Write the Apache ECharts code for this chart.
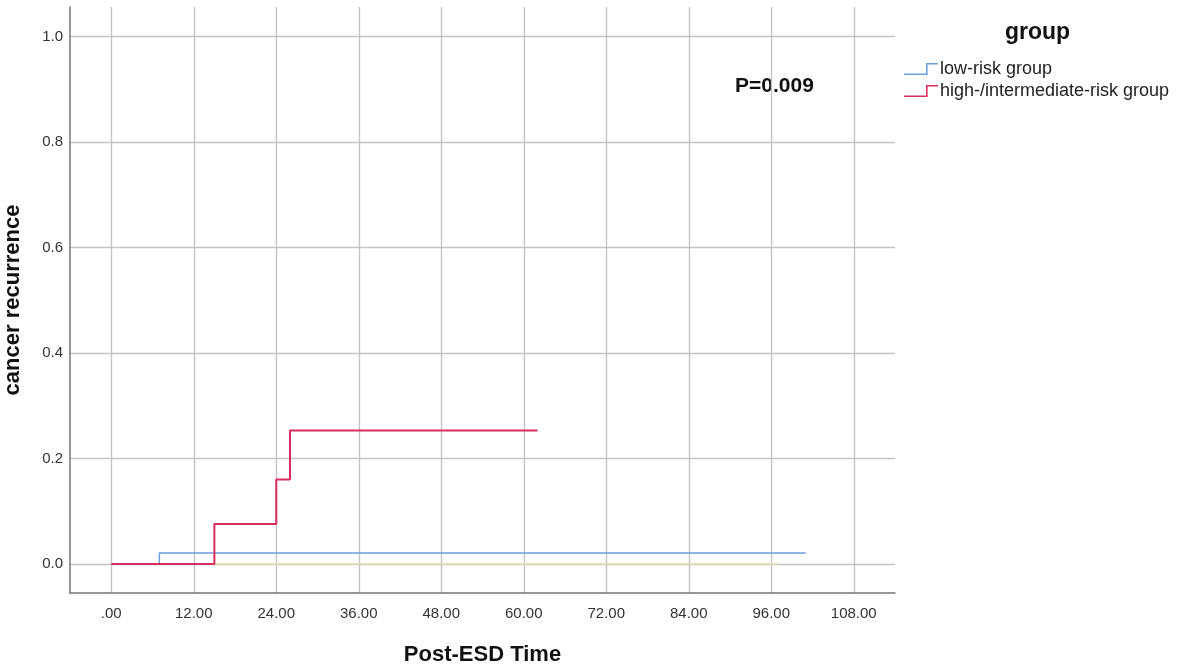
<!DOCTYPE html>
<html>
<head>
<meta charset="utf-8">
<script src="https://cdn.jsdelivr.net/npm/echarts@6/dist/echarts.min.js"></script>
<style>html,body{margin:0;padding:0;background:#fff;}#chart{width:1181px;height:670px;}</style>
</head>
<body>
<div id="chart"></div>
<script>
// Data
const xTicks = [0, 12, 24, 36, 48, 60, 72, 84, 96, 108];
const yTicks = [0, 0.2, 0.4, 0.6, 0.8, 1.0];
const lowRiskTime = [0, 7, 101];
const lowRiskValue = [0, 0.021, 0.021];
const highRiskTime = [0, 15, 24, 26, 62];
const highRiskValue = [0, 0.076, 0.16, 0.253, 0.253];
const refTime = [0, 97];
const refValue = [0, 0];
const seriesNames = ['low-risk group', 'high-/intermediate-risk group'];

const zip = (a, b) => a.map((v, i) => [v, b[i]]);
const FONT = '"Liberation Sans", Arial, sans-serif';
const STEP_ICON = 'path://M0,10.5 L22,10.5 L22,0 L34,0 L34,1.6 L23.6,1.6 L23.6,12.1 L0,12.1 Z';

const chart = echarts.init(document.getElementById('chart'), null, {renderer: 'canvas'});
chart.setOption({
  animation: false,
  backgroundColor: '#fff',
  grid: {left: 70, right: 286, top: 7, bottom: 77, containLabel: false, outerBoundsMode: 'none'},
  xAxis: {
    type: 'value', min: -6, max: 114,
    name: 'Post-ESD Time', nameLocation: 'middle', nameGap: 51,
    nameTextStyle: {fontFamily: FONT, fontSize: 22, fontWeight: 'bold', color: '#111'},
    axisLine: {show: true, onZero: false, lineStyle: {color: '#777', width: 1.5}},
    axisTick: {show: false, customValues: xTicks},
    axisLabel: {customValues: xTicks, fontFamily: FONT, fontSize: 15, color: '#333', margin: 13,
      formatter: v => v === 0 ? '.00' : v.toFixed(2)},
    splitLine: {show: true, lineStyle: {color: '#c4c4c4', width: 1.4}}
  },
  yAxis: {
    type: 'value', min: -0.055, max: 1.056,
    name: 'cancer recurrence', nameLocation: 'middle', nameGap: 46, nameRotate: 90,
    nameTextStyle: {fontFamily: FONT, fontSize: 22, fontWeight: 'bold', color: '#111'},
    axisLine: {show: true, onZero: false, lineStyle: {color: '#777', width: 1.5}},
    axisTick: {show: false, customValues: yTicks},
    axisLabel: {customValues: yTicks, fontFamily: FONT, fontSize: 15, color: '#333', margin: 7,
      formatter: v => v.toFixed(1)},
    splitLine: {show: true, lineStyle: {color: '#c4c4c4', width: 1.4}}
  },
  legend: {
    orient: 'vertical', left: 899, top: 55, itemGap: 4, itemWidth: 34, itemHeight: 13,
    data: seriesNames.map(n => ({name: n, icon: STEP_ICON})),
    itemStyle: {borderWidth: 0},
    textStyle: {fontFamily: FONT, fontSize: 18, color: '#222', padding: [0, 0, 0, -3]}
  },
  graphic: [
    {type: 'text', left: 1005, top: 21, style: {text: 'group', font: 'bold 23px ' + FONT, fill: '#111'}},
    {type: 'text', left: 735, top: 76, style: {text: 'P=0.009', font: 'bold 21px ' + FONT, fill: '#111'}}
  ],
  series: [
    {name: seriesNames[0], type: 'line', step: 'end', showSymbol: false, data: zip(lowRiskTime, lowRiskValue),
      lineStyle: {color: '#6f9fdc', width: 1.5}, itemStyle: {color: '#6f9fdc'}, z: 3},
    {name: seriesNames[1], type: 'line', step: 'end', showSymbol: false, data: zip(highRiskTime, highRiskValue),
      lineStyle: {color: '#d92d5e', width: 2}, itemStyle: {color: '#d92d5e'}, z: 4},
    {name: 'ref', type: 'line', showSymbol: false, data: zip(refTime, refValue),
      lineStyle: {color: '#e6dcae', width: 1.5}, itemStyle: {color: '#e6dcae'}, z: 2}
  ]
});
</script>
</body>
</html>
